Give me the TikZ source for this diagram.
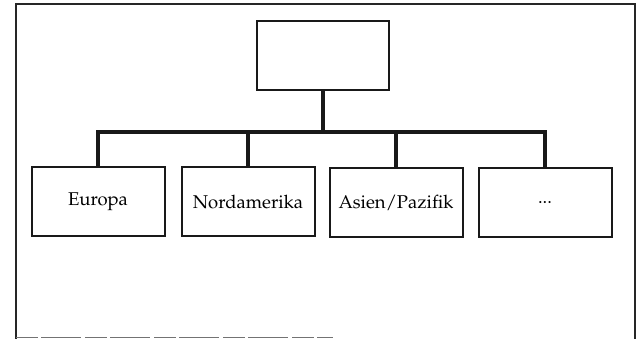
\documentclass[tikz,border=0pt]{standalone}
\usepackage[T1]{fontenc}
\usepackage{mathpazo}
\begin{document}
\begin{tikzpicture}[x=1pt,y=-1pt,
  box/.style={draw=black!90, line width=2pt, minimum width=133pt, minimum height=69pt, inner sep=0pt, font=\fontsize{18.5}{20}\selectfont},
  conn/.style={draw=black!90, line width=3.6pt, line join=miter},
  frame/.style={draw=black!85, line width=1.5pt}]
\useasboundingbox (0,0) rectangle (638,339);
% frame
\draw[frame] (16,339) -- (16,4) -- (635,4) -- (635,339);
\draw[draw=black!55, line width=1.2pt, dash pattern=on 22pt off 3pt on 40pt off 4pt] (16,337.8) -- (333,337.8);
% nodes
\node[box, minimum width=132pt] (top) at (323,56) {};
\node[box] (eu) at (98,202) {Europa};
\node[box] (na) at (248,202) {Nordamerika};
\node[box] (ap) at (396,202.5) {Asien/Pazifik};
\node[box] (mo) at (545,202.5) {...};
\coordinate (bar) at (0,132);
% connectors
\draw[conn] (top.south) -- (top.south |- bar);
\draw[conn] (eu.north) -- (eu.north |- bar) -- (mo.north |- bar) -- (mo.north);
\draw[conn] (na.north) -- (na.north |- bar);
\draw[conn] (ap.north) -- (ap.north |- bar);
\end{tikzpicture}
\end{document}
